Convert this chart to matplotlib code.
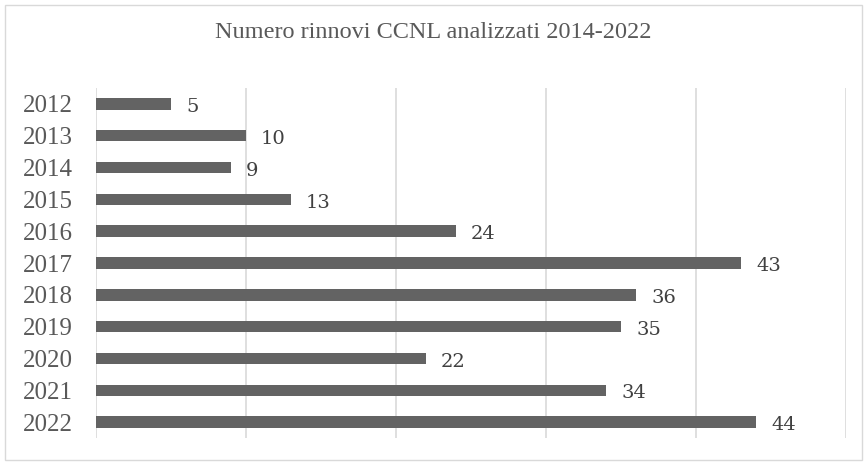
import matplotlib.pyplot as plt
from matplotlib.patches import Rectangle

# dati
anni = ['2012', '2013', '2014', '2015', '2016', '2017', '2018', '2019', '2020', '2021', '2022']
rinnovi = [5, 10, 9, 13, 24, 43, 36, 35, 22, 34, 44]
titolo = 'Numero rinnovi CCNL analizzati 2014-2022'

fig = plt.figure(figsize=(8.67, 4.65), dpi=100)
ax = fig.add_axes([96 / 867, 1 - 438 / 465, 750 / 867, 350 / 465])

pos = list(range(len(anni)))
ax.barh(pos, rinnovi, height=0.36, color='#636363', zorder=3)

for p, v in zip(pos, rinnovi):
    ax.text(v + 1.0, p + 0.1, str(v), va='center', ha='left',
            family='DejaVu Serif', fontsize=14, color='#404040')

ax.set_xlim(0, 50)
ax.set_ylim(len(anni) - 0.5, -0.5)
ax.set_xticks(range(0, 51, 10))
ax.set_xticklabels([])
ax.set_yticks(pos)
ax.set_yticklabels(anni, family='Liberation Serif', fontsize=18, color='#595959')
ax.tick_params(axis='both', length=0, pad=17)
ax.grid(axis='x', color='#d9d9d9', linewidth=1.2, zorder=0)
for s in ax.spines.values():
    s.set_visible(False)

fig.text(433 / 867, 1 - 32 / 465, titolo, ha='center', va='center',
         family='Liberation Serif', fontsize=17.5, color='#595959')

fig.patches.append(Rectangle((5 / 867, 5 / 465), 857 / 867, 455 / 465,
                             transform=fig.transFigure, fill=False,
                             edgecolor='#d9d9d9', linewidth=1))

fig.savefig('out.png', dpi=100)
